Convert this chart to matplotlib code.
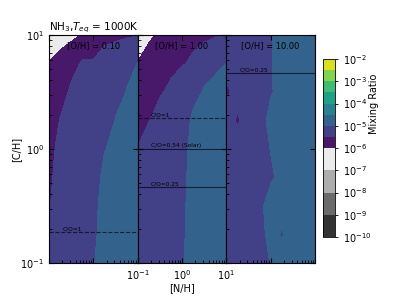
import numpy as np
import matplotlib.pyplot as plt
from matplotlib.ticker import FuncFormatter

# ── Grid: log10 of [N/H] (columns) and [C/H] (rows) ─────────
log_nh = [-1.0, -0.75, -0.5, -0.25, 0.0, 0.25, 0.5, 0.75, 1.0]
log_ch = [-1.0, -0.75, -0.5, -0.25, 0.0, 0.25, 0.5, 0.75, 1.0]

# ── log10 NH3 mixing ratio, one table per [O/H] ─────────────
log_mr_oh_010 = [
    [-5.47, -5.37, -5.25, -5.13, -5.01, -4.90, -4.82, -4.76, -4.72],
    [-5.47, -5.37, -5.25, -5.14, -5.03, -4.92, -4.84, -4.78, -4.74],
    [-5.51, -5.40, -5.28, -5.16, -5.04, -4.93, -4.85, -4.79, -4.75],
    [-5.53, -5.42, -5.31, -5.20, -5.07, -4.95, -4.86, -4.80, -4.76],
    [-5.55, -5.44, -5.33, -5.22, -5.12, -5.01, -4.92, -4.85, -4.80],
    [-5.60, -5.49, -5.39, -5.29, -5.20, -5.10, -4.99, -4.90, -4.84],
    [-5.70, -5.60, -5.45, -5.36, -5.27, -5.18, -5.09, -4.99, -4.90],
    [-5.98, -5.80, -5.62, -5.45, -5.47, -5.28, -5.20, -5.09, -4.99],
    [-6.50, -6.30, -6.15, -5.95, -5.75, -5.68, -5.62, -5.57, -5.52],
]
log_mr_oh_100 = [
    [-5.35, -5.27, -5.20, -5.12, -5.02, -4.88, -4.80, -4.75, -4.72],
    [-5.36, -5.28, -5.20, -5.12, -5.03, -4.90, -4.82, -4.77, -4.74],
    [-5.38, -5.30, -5.22, -5.13, -5.04, -4.90, -4.82, -4.77, -4.74],
    [-5.42, -5.33, -5.24, -5.15, -5.05, -4.91, -4.83, -4.78, -4.75],
    [-5.49, -5.38, -5.28, -5.17, -5.07, -4.92, -4.84, -4.79, -4.76],
    [-5.62, -5.51, -5.40, -5.28, -5.13, -4.94, -4.86, -4.81, -4.78],
    [-5.80, -5.68, -5.53, -5.42, -5.30, -5.12, -4.95, -4.86, -4.82],
    [-5.98, -5.85, -5.75, -5.62, -5.53, -5.42, -5.28, -5.12, -4.99],
    [-6.40, -6.08, -5.90, -5.80, -5.72, -5.66, -5.60, -5.54, -5.45],
]
log_mr_oh_1000 = [
    [-5.30, -5.25, -5.20, -5.10, -4.99, -4.88, -4.82, -4.78, -4.76],
    [-5.52, -5.28, -5.18, -5.08, -4.90, -5.03, -4.82, -4.78, -4.76],
    [-5.30, -5.25, -5.16, -5.04, -4.90, -4.85, -4.81, -4.78, -4.76],
    [-5.32, -5.27, -5.20, -5.12, -5.04, -4.90, -4.83, -4.79, -4.77],
    [-5.30, -5.26, -5.20, -5.10, -4.99, -4.88, -4.82, -4.79, -4.77],
    [-5.30, -5.56, -5.20, -5.08, -4.93, -4.86, -4.82, -4.79, -4.77],
    [-5.58, -5.30, -5.24, -5.16, -5.02, -4.90, -4.84, -4.80, -4.78],
    [-5.30, -5.27, -5.22, -5.14, -5.02, -4.88, -4.82, -4.79, -4.77],
    [-5.31, -5.27, -5.22, -5.14, -5.02, -4.88, -4.83, -4.80, -4.78],
]

oh_values = [0.10, 1.00, 10.00]
panel_tables = [log_mr_oh_010, log_mr_oh_100, log_mr_oh_1000]

# C/O reference lines per panel (C/O value, label)
solar_co = 0.54
co_lines = [
    [(1.0, "C/O=1")],
    [(1.0, "C/O=1"), (0.54, "C/O=0.54 (Solar)"), (0.25, "C/O=0.25")],
    [(0.25, "C/O=0.25")],
]

# contour levels (log10 mixing ratio)
levels = [-10, -9, -8, -7, -6, -5.5, -5, -4.5, -4, -3.5, -3, -2.5, -2]
cbar_ticks = [-10, -9, -8, -7, -6, -5, -4, -3, -2]

gray_cols = ["#333333", "#6b6b6b", "#adadad", "#ebebeb"]
band_cols = gray_cols + list(plt.cm.viridis((np.arange(8) + 0.5) / 8))

# ── Figure ──────────────────────────────────────────────────
fig = plt.figure(figsize=(3.94, 2.96), dpi=100)
left, right, bottom, top = 49 / 394, 315 / 394, 1 - 263 / 296, 1 - 35 / 296
pw = (right - left) / 3

X, Y = np.meshgrid(10.0 ** np.array(log_nh), 10.0 ** np.array(log_ch))

axes = []
for i in range(3):
    ax = fig.add_axes([left + i * pw, bottom, pw, top - bottom])
    axes.append(ax)
    cf = ax.contourf(X, Y, np.array(panel_tables[i]), levels=levels, colors=band_cols)
    ax.set_xscale("log")
    ax.set_yscale("log")
    ax.set_xlim(0.1, 10)
    ax.set_ylim(0.1, 10)

    oh = oh_values[i]
    for co, lab in co_lines[i]:
        ch = oh * co / solar_co
        ls = "--" if co == 1.0 else "-"
        ax.axhline(ch, color="k", ls=ls, lw=0.8, alpha=0.65)
        ax.text(0.15, ch * 1.02, lab, transform=ax.get_yaxis_transform(),
                fontsize=4.2, va="bottom", ha="left")

    ax.text(0.5, 0.955, f"[O/H] = {oh:.2f}", transform=ax.transAxes,
            ha="center", va="center", fontsize=6)

    ax.tick_params(which="major", direction="in", top=True, right=True,
                   length=3.5, width=0.8, labelsize=7)
    ax.tick_params(which="minor", direction="in", length=2, width=0.6)
    if i != 1:
        ax.tick_params(labelbottom=False)
    if i != 0:
        ax.tick_params(labelleft=False)

axes[0].set_ylabel("[C/H]", fontsize=7, labelpad=-1)
axes[1].set_xlabel("[N/H]", fontsize=7, labelpad=1)
axes[0].set_title("NH$_3$,$T_{eq}$ = 1000K", loc="left", fontsize=7.5, pad=2)

# ── Colorbar ────────────────────────────────────────────────
cax = fig.add_axes([323 / 394, 1 - 237 / 296, 12 / 394, 178 / 296])
cb = fig.colorbar(cf, cax=cax, spacing="proportional", ticks=cbar_ticks)
cb.ax.yaxis.set_major_formatter(FuncFormatter(lambda v, p: f"$10^{{{int(round(v))}}}$"))
cb.ax.tick_params(labelsize=7, length=2.5, width=0.6)
cb.set_label("Mixing Ratio", fontsize=7)
cb.ax.yaxis.set_label_coords(3.85, 0.75)
cb.outline.set_linewidth(0.6)

fig.savefig("out.png", dpi=100)
